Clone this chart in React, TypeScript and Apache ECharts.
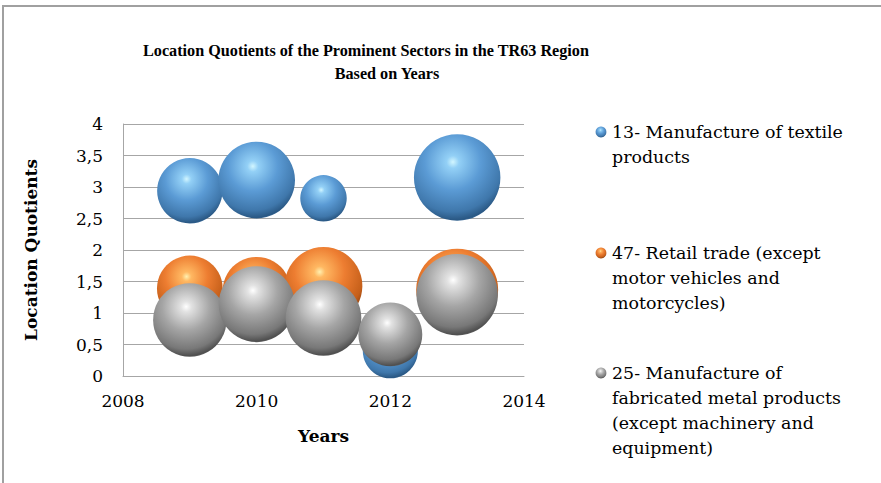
import React, { useEffect, useRef } from "react";
import * as echarts from "echarts";

const years = [2009, 2010, 2011, 2012, 2013];
const seriesNames = [
  "13- Manufacture of textile\nproducts",
  "47- Retail trade (except\nmotor vehicles and\nmotorcycles)",
  "25- Manufacture of\nfabricated metal products\n(except machinery and\nequipment)",
];
const textileLQ = [2.94, 3.11, 2.82, 0.4, 3.15];
const textileSize = [10.7, 14.7, 5.4, 7.6, 18.7];
const retailLQ = [1.39, 1.35, 1.43, null, 1.37];
const retailSize = [10.8, 11.6, 15.1, null, 16.8];
const metalLQ = [0.89, 1.14, 0.92, 0.66, 1.29];
const metalSize = [13.5, 14.4, 14.3, 10.2, 16.6];
const yTicks = [0, 0.5, 1, 1.5, 2, 2.5, 3, 3.5, 4];
const xTicks = [2008, 2010, 2012, 2014];

const titleLine1 = "Location Quotients of the Prominent Sectors in the TR63 Region";
const titleLine2 = "Based on Years";

const SERIF = "'DejaVu Serif', 'Liberation Serif', serif";
const TITLE_SERIF = "'Liberation Serif', 'DejaVu Serif', serif";

const palettes = [
  ["#d2f6ff", "#93d0f6", "#5b9bd5", "#3f77ab", "#2a5884", "#4f86ba"],
  ["#fff0b0", "#ffb862", "#ed7d31", "#c55f1a", "#8c4010", "#bb6220"],
  ["#ffffff", "#e2e2e2", "#a5a5a5", "#787878", "#4f4f4f", "#808080"],
];

function sphere(p: string[]) {
  return {
    type: "radial",
    x: 0.45,
    y: 0.32,
    r: 0.72,
    colorStops: [
      { offset: 0, color: p[0] },
      { offset: 0.1, color: p[1] },
      { offset: 0.45, color: p[2] },
      { offset: 0.8, color: p[3] },
      { offset: 0.93, color: p[4] },
      { offset: 1, color: p[5] },
    ],
  };
}

function build(vals: (number | null)[], sizes: (number | null)[]) {
  const out: any[] = [];
  years.forEach((y, i) => {
    if (vals[i] != null && sizes[i] != null) out.push([y, vals[i], sizes[i]]);
  });
  return out;
}

export default function App() {
  const ref = useRef<HTMLDivElement>(null);
  useEffect(() => {
    if (!ref.current) return;
    const chart = echarts.init(ref.current, undefined, { renderer: "svg" });
    const data = [
      build(textileLQ, textileSize),
      build(retailLQ, retailSize),
      build(metalLQ, metalSize),
    ];

    const legendTops = [132, 253, 373];
    const legendGraphics: any[] = [];
    seriesNames.forEach((name, i) => {
      legendGraphics.push({
        type: "circle",
        shape: { cx: 601, cy: legendTops[i], r: 5.4 },
        style: { fill: sphere(palettes[i]) as any },
      });
      legendGraphics.push({
        type: "text",
        x: 612,
        y: legendTops[i] - 12.5,
        style: {
          text: name,
          font: `17.4px ${SERIF}`,
          fill: "#000",
          lineHeight: 25,
          verticalAlign: "top",
          align: "left",
        },
      });
    });

    const titleStyle = { fontFamily: TITLE_SERIF, fontWeight: "bold", fontSize: 16.2, color: "#000" };

    chart.setOption({
      animation: false,
      backgroundColor: "#fff",
      title: [
        { text: titleLine1, left: 361, textAlign: "center", top: 38, textStyle: titleStyle },
        { text: titleLine2, left: 382, textAlign: "center", top: 61, textStyle: titleStyle },
      ],
      grid: { left: 123, top: 124, width: 401, height: 252, containLabel: false },
      xAxis: {
        type: "value",
        min: xTicks[0],
        max: xTicks[xTicks.length - 1],
        interval: 2,
        name: "Years",
        nameLocation: "middle",
        nameGap: 51,
        nameTextStyle: { fontFamily: SERIF, fontWeight: "bold", fontSize: 17, color: "#000" },
        axisLine: { show: true, lineStyle: { color: "#a6a6a6", width: 1 } },
        axisTick: { show: false },
        splitLine: { show: false },
        axisLabel: {
          fontFamily: SERIF,
          fontSize: 17,
          color: "#000",
          margin: 16,
          formatter: (v: number) => String(v),
        },
      },
      yAxis: {
        type: "value",
        min: yTicks[0],
        max: yTicks[yTicks.length - 1],
        interval: 0.5,
        name: "Location Quotients",
        nameLocation: "middle",
        nameGap: 84,
        nameRotate: 90,
        nameTextStyle: { fontFamily: SERIF, fontWeight: "bold", fontSize: 17, color: "#000" },
        axisLine: { show: true, lineStyle: { color: "#a6a6a6", width: 1 } },
        axisTick: { show: false },
        splitLine: { show: true, lineStyle: { color: "#a6a6a6", width: 1 } },
        axisLabel: {
          fontFamily: SERIF,
          fontSize: 17,
          color: "#000",
          margin: 20,
          formatter: (v: number) => String(v).replace(".", ","),
        },
      },
      series: data.map((d, i) => ({
        type: "scatter",
        name: seriesNames[i],
        data: d,
        symbol: "circle",
        symbolSize: (v: number[]) => Math.sqrt(v[2]) * 20,
        itemStyle: { color: sphere(palettes[i]) as any, opacity: 1 },
        emphasis: { disabled: true },
        clip: false,
        z: 2 + i,
      })),
      graphic: [
        {
          type: "rect",
          shape: { x: 3, y: 6, width: 1000, height: 1000 },
          style: { fill: "none", stroke: "#a0a0a0", lineWidth: 2 },
          silent: true,
        },
        ...legendGraphics,
      ],
    });
    return () => chart.dispose();
  }, []);
  return (
    <div
      ref={ref}
      style={{ position: "absolute", left: 0, top: 0, width: 881, height: 483 }}
    />
  );
}
